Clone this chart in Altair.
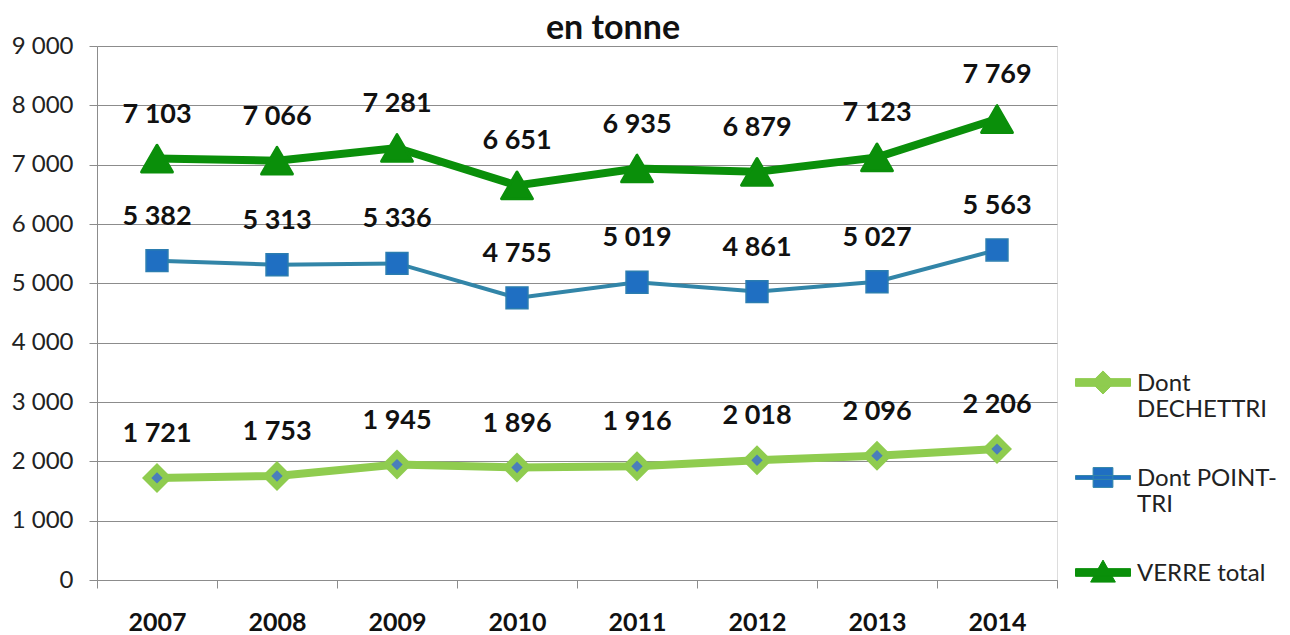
import altair as alt
import pandas as pd

FONT = "Lato"

years = ["2007", "2008", "2009", "2010", "2011", "2012", "2013", "2014"]
dechettri = [1721, 1753, 1945, 1896, 1916, 2018, 2096, 2206]
point_tri = [5382, 5313, 5336, 4755, 5019, 4861, 5027, 5563]
verre_total = [7103, 7066, 7281, 6651, 6935, 6879, 7123, 7769]
series_names = ["Dont DECHETTRI", "Dont POINT-TRI", "VERRE total"]
y_ticks = [0, 1000, 2000, 3000, 4000, 5000, 6000, 7000, 8000, 9000]

rows = []
for name, vals in zip(series_names, [dechettri, point_tri, verre_total]):
    for yr, v in zip(years, vals):
        rows.append({"year": yr, "series": name, "value": v})
df = pd.DataFrame(rows)

GRID = "#8c8c8c"

x_enc = alt.X(
    "year:N", sort=years, bandPosition=0.5,
    scale=alt.Scale(type="band", paddingInner=0, paddingOuter=0),
    axis=alt.Axis(title=None, labelAngle=0, tickBand="extent", ticks=True, tickSize=8,
                  tickColor=GRID, domainColor=GRID, labelFont=FONT, labelFontSize=25,
                  labelFontWeight="bold", labelColor="#111111", labelPadding=22, grid=False),
)
y_enc = alt.Y(
    "value:Q",
    scale=alt.Scale(domain=[0, 9000], nice=False, zero=True),
    axis=alt.Axis(title=None, values=y_ticks,
                  labelExpr="replace(format(datum.value, ','), ',', ' ')",
                  grid=True, gridColor=GRID, gridWidth=1, domainColor=GRID,
                  tickColor=GRID, tickSize=8, labelFont=FONT, labelFontSize=24,
                  labelColor="#222222", labelPadding=16),
)

base = alt.Chart(df).encode(x=x_enc, y=y_enc)

def sel(name):
    return alt.datum.series == name

# DECHETTRI
d_line = base.transform_filter(sel("Dont DECHETTRI")).mark_line(color="#8FCC4F", strokeWidth=8)
d_pt = base.transform_filter(sel("Dont DECHETTRI")).mark_point(
    shape="diamond", filled=True, size=900, color="#8FCC4F", opacity=1)
d_in = base.transform_filter(sel("Dont DECHETTRI")).mark_point(
    shape="diamond", filled=True, size=130, color="#4A7EBB", opacity=1)

# POINT-TRI
p_line = base.transform_filter(sel("Dont POINT-TRI")).mark_line(color="#3285A8", strokeWidth=4)
p_pt = base.transform_filter(sel("Dont POINT-TRI")).mark_point(
    shape="square", filled=True, size=480, fill="#1F6FC2", stroke="#2B7DB0",
    strokeWidth=1.5, opacity=1)

# VERRE total
v_line = base.transform_filter(sel("VERRE total")).mark_line(color="#0A8F0A", strokeWidth=8)
v_pt = base.transform_filter(sel("VERRE total")).mark_point(
    shape="triangle-up", filled=True, size=950, fill="#0A8F0A", stroke="#0A8F0A",
    strokeWidth=3, strokeJoin="round", opacity=1)

labels = base.transform_calculate(
    lbl="replace(format(datum.value, ','), ',', ' ')"
).mark_text(font=FONT, fontSize=27, fontWeight="bold", color="#111111",
            baseline="middle", dy=-44).encode(text="lbl:N")

# legend symbols: line + marker, shifted up to line up with the first text line
legend_shapes = [
    "M-1,-0.45H1V-0.17H-1Z M0,-0.73L0.42,-0.31L0,0.11L-0.42,-0.31Z",
    "M-1,-0.38H1V-0.24H-1Z M-0.36,-0.67H0.36V0.05H-0.36Z",
    "M-1,-0.45H1V-0.17H-1Z M0,-0.76L0.45,0.04L-0.45,0.04Z",
]
leg = alt.Legend(
    title=None, orient="none", legendX=978, legendY=317, padding=0,
    symbolSize=3025, symbolOpacity=1, symbolStrokeWidth=1,
    labelFont=FONT, labelFontSize=24, labelColor="#222222", labelOffset=6,
    labelLimit=400, rowPadding=36, labelBaseline="alphabetic",
    labelExpr="datum.label == 'Dont DECHETTRI' ? ['Dont', 'DECHETTRI'] : "
              "datum.label == 'Dont POINT-TRI' ? ['Dont   POINT-', 'TRI'] : datum.label",
)
legend_layer = base.mark_point(filled=True, opacity=0, strokeWidth=1).encode(
    fill=alt.Fill("series:N", scale=alt.Scale(domain=series_names,
                  range=["#8FCC4F", "#1F6FC2", "#0A8F0A"]), legend=leg),
    stroke=alt.Stroke("series:N", scale=alt.Scale(domain=series_names,
                      range=["#8FCC4F", "#3285A8", "#0A8F0A"]), legend=leg),
    shape=alt.Shape("series:N", scale=alt.Scale(domain=series_names, range=legend_shapes),
                    legend=leg),
)

chart = alt.layer(
    d_line, d_pt, d_in, p_line, p_pt, v_line, v_pt, labels, legend_layer
).properties(
    width=960, height=534,
    title=alt.TitleParams("en tonne", font=FONT, fontSize=34, fontWeight="bold",
                          color="#111111", offset=-12, anchor="middle", dx=36),
    autosize=alt.AutoSizeParams(type="none"),
    padding={"left": 89, "top": 38, "right": 225, "bottom": 58},
).configure_view(stroke=GRID, strokeWidth=1).configure(background="white")

chart.save("out.html", embed_options={"renderer": "svg", "actions": False})
